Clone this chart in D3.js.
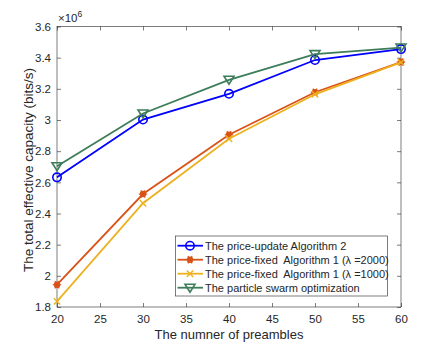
<!DOCTYPE html>
<meta charset="utf-8">
<head>
<script src="https://cdn.jsdelivr.net/npm/d3@7"></script>
<style>
body { margin: 0; background: #fff; }
text { font-family: "Liberation Sans", Arial, sans-serif; fill: #262626; white-space: pre; }
</style>
</head>
<body>
<script>
// Data
const preambles = [20, 30, 40, 50, 60];
const priceUpdate = [2.632, 3.003, 3.168, 3.385, 3.455];
const fixed2000 = [1.943, 2.525, 2.905, 3.178, 3.372];
const fixed1000 = [1.836, 2.466, 2.880, 3.165, 3.370];
const pso = [2.703, 3.042, 3.258, 3.423, 3.465];
const xTicks = [20, 25, 30, 35, 40, 45, 50, 55, 60];
const yTicks = [1.8, 2, 2.2, 2.4, 2.6, 2.8, 3, 3.2, 3.4, 3.6];

const series = [
    {name: "The price-update Algorithm 2", values: priceUpdate, color: "#0000ff", marker: "circle"},
    {name: "The price-fixed  Algorithm 1 (λ =2000)", values: fixed2000, color: "#d95319", marker: "star"},
    {name: "The price-fixed  Algorithm 1 (λ =1000)", values: fixed1000, color: "#edb120", marker: "x"},
    {name: "The particle swarm optimization", values: pso, color: "#3d7d5a", marker: "tri"}
];

const width = 443, height = 345;
const plot = {left: 57, right: 401, top: 26.5, bottom: 307};

const svg = d3.select("body").append("svg")
    .attr("width", width)
    .attr("height", height);

const x = d3.scaleLinear().domain([20, 60]).range([plot.left, plot.right]);
const y = d3.scaleLinear().domain([1.8, 3.6]).range([plot.bottom, plot.top]);

// Axes box
svg.append("rect")
    .attr("x", plot.left).attr("y", plot.top)
    .attr("width", plot.right - plot.left)
    .attr("height", plot.bottom - plot.top)
    .attr("fill", "none")
    .attr("stroke", "#262626")
    .attr("stroke-width", 0.6);

const tickLen = 4;
const axisStyle = g => {
    g.select(".domain").remove();
    g.selectAll(".tick line").attr("stroke", "#262626").attr("stroke-width", 0.6);
    g.selectAll(".tick text").style("font-size", "11.5px").attr("fill", "#262626");
};

svg.append("g")
    .attr("transform", `translate(0,${plot.bottom})`)
    .call(d3.axisBottom(x).tickValues(xTicks).tickSize(-tickLen).tickPadding(8).tickFormat(d3.format("d")))
    .call(axisStyle);
svg.append("g")
    .attr("transform", `translate(0,${plot.top})`)
    .call(d3.axisTop(x).tickValues(xTicks).tickSize(-tickLen).tickFormat(""))
    .call(axisStyle);
svg.append("g")
    .attr("transform", `translate(${plot.left},0)`)
    .call(d3.axisLeft(y).tickValues(yTicks).tickSize(-tickLen).tickPadding(6).tickFormat(d => d3.format("")(+d.toFixed(1))))
    .call(axisStyle);
svg.append("g")
    .attr("transform", `translate(${plot.right},0)`)
    .call(d3.axisRight(y).tickValues(yTicks).tickSize(-tickLen).tickFormat(""))
    .call(axisStyle);

// Exponent label
const expo = svg.append("text")
    .attr("x", plot.left + 1)
    .attr("y", plot.top - 5)
    .style("font-size", "11.5px");
expo.append("tspan").text("×10");
expo.append("tspan").attr("dy", -5).style("font-size", "8.5px").text("6");

// Axis labels
svg.append("text")
    .attr("x", (plot.left + plot.right) / 2)
    .attr("y", 339)
    .attr("text-anchor", "middle")
    .style("font-size", "13px")
    .text("The numner of preambles");

svg.append("text")
    .attr("transform", `translate(33,170) rotate(-90)`)
    .attr("text-anchor", "middle")
    .style("font-size", "13.5px")
    .text("The total effective capacity (bits/s)");

// Marker drawing
function drawMarker(g, type, color) {
    if (type === "circle") {
        g.append("circle").attr("r", 4.2).attr("fill", "none").attr("stroke", color).attr("stroke-width", 1.6);
    } else if (type === "star") {
        g.append("circle").attr("r", 3.2).attr("fill", color);
        [0, 60, 120].forEach(a => {
            const r = 4.2, t = a * Math.PI / 180;
            g.append("line")
                .attr("x1", -r * Math.cos(t)).attr("y1", -r * Math.sin(t))
                .attr("x2", r * Math.cos(t)).attr("y2", r * Math.sin(t))
                .attr("stroke", color).attr("stroke-width", 1.2);
        });
    } else if (type === "x") {
        const r = 3.2;
        g.append("path").attr("d", `M${-r},${-r}L${r},${r}M${-r},${r}L${r},${-r}`)
            .attr("stroke", color).attr("stroke-width", 1.4);
    } else if (type === "tri") {
        g.append("path").attr("d", "M-5,-3.5L5,-3.5L0,4.5Z")
            .attr("fill", "none").attr("stroke", color).attr("stroke-width", 1.6);
    }
}

const line = d3.line().x((d, i) => x(preambles[i])).y(d => y(d));

series.forEach(s => {
    svg.append("path")
        .datum(s.values)
        .attr("d", line)
        .attr("fill", "none")
        .attr("stroke", s.color)
        .attr("stroke-width", 1.8);
    s.values.forEach((v, i) => {
        const g = svg.append("g").attr("transform", `translate(${x(preambles[i])},${y(v)})`);
        drawMarker(g, s.marker, s.color);
    });
});

// Legend
const legend = svg.append("g");
legend.append("rect")
    .attr("x", 175.5).attr("y", 236)
    .attr("width", 212).attr("height", 60)
    .attr("fill", "#fff")
    .attr("stroke", "#262626")
    .attr("stroke-width", 0.6);

series.forEach((s, i) => {
    const ly = 245.7 + i * 14;
    legend.append("line")
        .attr("x1", 177.5).attr("x2", 203)
        .attr("y1", ly).attr("y2", ly)
        .attr("stroke", s.color).attr("stroke-width", 1.8);
    const g = legend.append("g").attr("transform", `translate(190,${ly})`);
    drawMarker(g, s.marker, s.color);
    legend.append("text")
        .attr("x", 205)
        .attr("y", ly + 4)
        .style("font-size", "11px")
        .text(s.name);
});
</script>
</body>
</html>
